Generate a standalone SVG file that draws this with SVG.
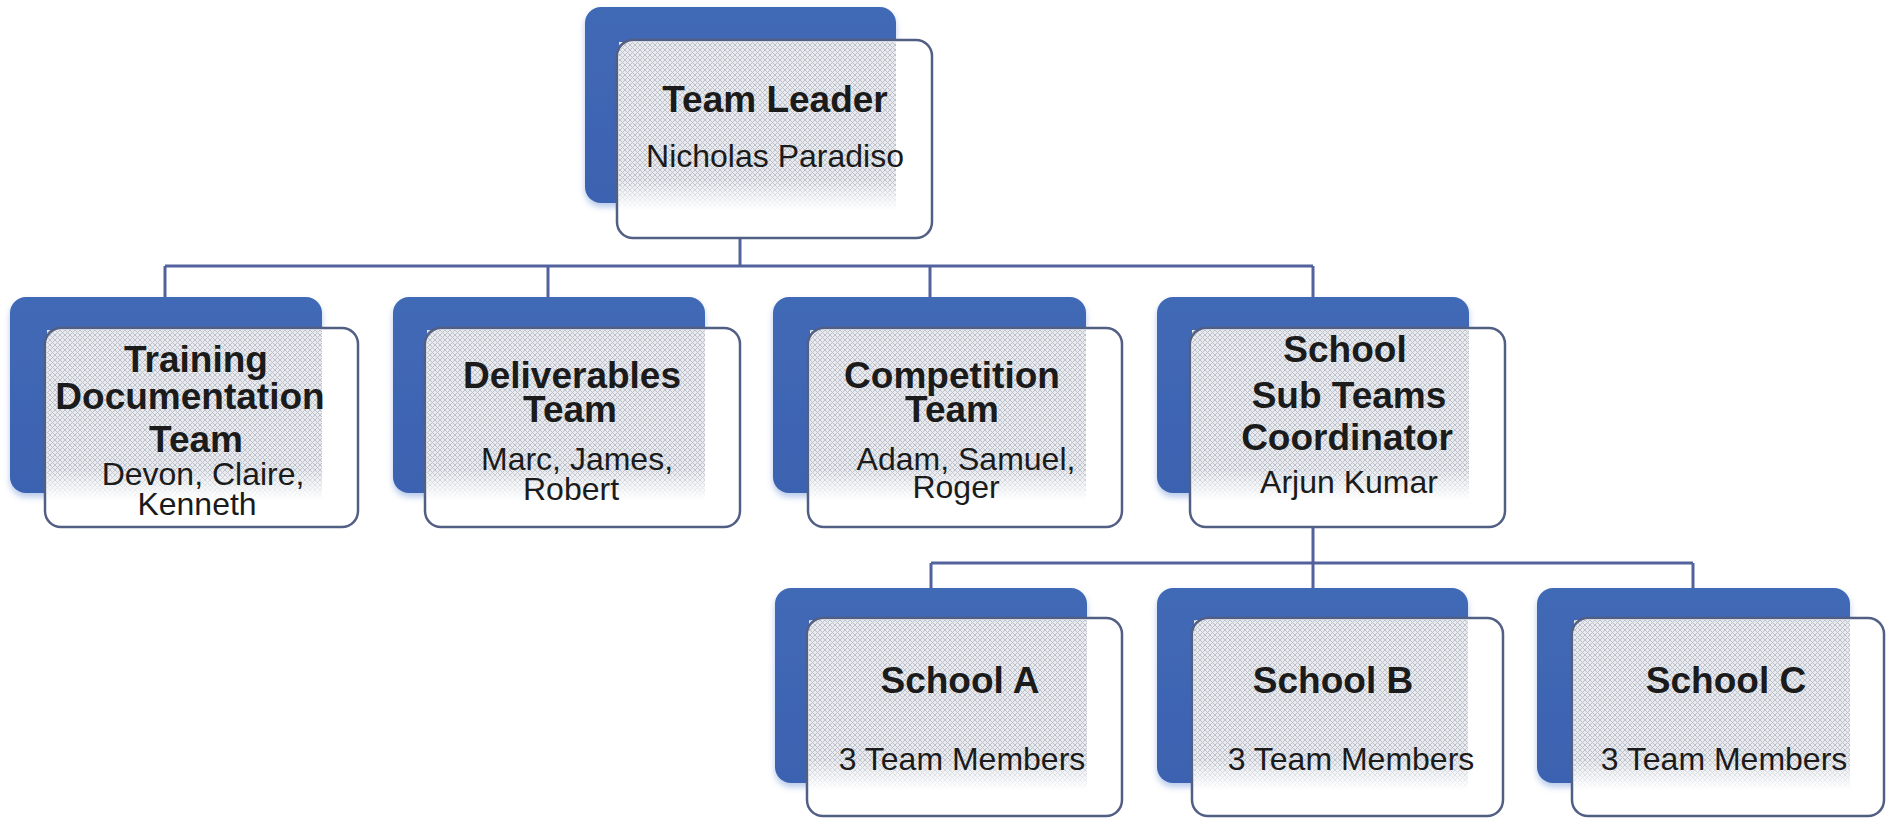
<svg xmlns="http://www.w3.org/2000/svg" width="1886" height="818" viewBox="0 0 1886 818">
<style>
.back{fill:url(#blueGrad);filter:url(#soft)}
.front{fill:#ffffff;stroke:none}
.frame{fill:none;stroke:#525f84;stroke-width:2.5}
.tex{fill:url(#hatch);mask:url(#fade)}
.conn{fill:none;stroke:#52629c;stroke-width:3}
.lbl{font-family:"Liberation Sans",Arial,sans-serif;fill:#1b1b1b;text-anchor:middle}
.t{font-weight:bold;font-size:37px}
.s{font-weight:normal;font-size:32px}
</style>
<defs>
<linearGradient id="blueGrad" x1="0" y1="0" x2="0" y2="1">
<stop offset="0" stop-color="#4169b6"/>
<stop offset="1" stop-color="#3b62b0"/>
</linearGradient>
<filter id="soft" x="-10%" y="-10%" width="120%" height="125%">
<feDropShadow dx="0" dy="4" stdDeviation="3" flood-color="#5f86d0" flood-opacity="0.45"/>
</filter>
<pattern id="hatch" width="5" height="5" patternUnits="userSpaceOnUse">
<rect width="5" height="5" fill="#e9ebef"/>
<path d="M0 0L5 5M5 0L0 5" stroke="#bcc1cb" stroke-width="1"/>
</pattern>
<linearGradient id="fadeGrad" x1="0" y1="0" x2="0" y2="1">
<stop offset="0" stop-color="#fff"/>
<stop offset="0.82" stop-color="#fff"/>
<stop offset="1" stop-color="#000"/>
</linearGradient>
<mask id="fade" maskContentUnits="objectBoundingBox">
<rect width="1" height="1" fill="url(#fadeGrad)"/>
</mask>
</defs>
<rect width="1886" height="818" fill="#ffffff"/>

<g id="connectors">
<path class="conn" d="M740 238V266M165 266H1313M165 266V297M548 266V297M930 266V297M1313 266V297"/>
<path class="conn" d="M1313 528V563M931 563H1693M931 563V588M1313 563V588M1693 563V588"/>
</g>

<g id="team-leader">
<rect class="back" x="585" y="7" width="311" height="196" rx="16"/>
<rect class="front" x="617" y="40" width="315" height="198" rx="16"/>
<rect class="tex" x="619" y="42" width="277" height="168"/>
<rect class="frame" x="617" y="40" width="315" height="198" rx="16"/>
<text class="lbl"><tspan class="t" x="775" y="112">Team Leader</tspan><tspan class="s" x="775" y="167">Nicholas Paradiso</tspan></text>
</g>

<g id="training">
<rect class="back" x="10" y="297" width="312" height="196" rx="16"/>
<rect class="front" x="45" y="328" width="313" height="199" rx="16"/>
<rect class="tex" x="47" y="330" width="275" height="170"/>
<rect class="frame" x="45" y="328" width="313" height="199" rx="16"/>
<text class="lbl"><tspan class="t" x="196" y="372">Training</tspan><tspan class="t" x="190" y="409">Documentation</tspan><tspan class="t" x="196" y="452">Team</tspan><tspan class="s" x="203" y="485">Devon, Claire,</tspan><tspan class="s" x="197" y="515">Kenneth</tspan></text>
</g>

<g id="deliverables">
<rect class="back" x="393" y="297" width="312" height="196" rx="16"/>
<rect class="front" x="425" y="328" width="315" height="199" rx="16"/>
<rect class="tex" x="427" y="330" width="278" height="170"/>
<rect class="frame" x="425" y="328" width="315" height="199" rx="16"/>
<text class="lbl"><tspan class="t" x="572" y="388">Deliverables</tspan><tspan class="t" x="570" y="422">Team</tspan><tspan class="s" x="577" y="470">Marc, James,</tspan><tspan class="s" x="571" y="500">Robert</tspan></text>
</g>

<g id="competition">
<rect class="back" x="773" y="297" width="313" height="196" rx="16"/>
<rect class="front" x="808" y="328" width="314" height="199" rx="16"/>
<rect class="tex" x="810" y="330" width="276" height="170"/>
<rect class="frame" x="808" y="328" width="314" height="199" rx="16"/>
<text class="lbl"><tspan class="t" x="952" y="388">Competition</tspan><tspan class="t" x="952" y="422">Team</tspan><tspan class="s" x="966" y="470">Adam, Samuel,</tspan><tspan class="s" x="956" y="498">Roger</tspan></text>
</g>

<g id="school-coordinator">
<rect class="back" x="1157" y="297" width="312" height="196" rx="16"/>
<rect class="front" x="1190" y="328" width="315" height="199" rx="16"/>
<rect class="tex" x="1192" y="330" width="277" height="170"/>
<rect class="frame" x="1190" y="328" width="315" height="199" rx="16"/>
<text class="lbl"><tspan class="t" x="1345" y="362">School</tspan><tspan class="t" x="1349" y="408">Sub Teams</tspan><tspan class="t" x="1347" y="450">Coordinator</tspan><tspan class="s" x="1349" y="493">Arjun Kumar</tspan></text>
</g>

<g id="school-a">
<rect class="back" x="775" y="588" width="312" height="195" rx="16"/>
<rect class="front" x="807" y="618" width="315" height="198" rx="16"/>
<rect class="tex" x="809" y="620" width="278" height="170"/>
<rect class="frame" x="807" y="618" width="315" height="198" rx="16"/>
<text class="lbl"><tspan class="t" x="960" y="693">School A</tspan><tspan class="s" x="962" y="770">3 Team Members</tspan></text>
</g>

<g id="school-b">
<rect class="back" x="1157" y="588" width="311" height="195" rx="16"/>
<rect class="front" x="1192" y="618" width="311" height="198" rx="16"/>
<rect class="tex" x="1194" y="620" width="274" height="170"/>
<rect class="frame" x="1192" y="618" width="311" height="198" rx="16"/>
<text class="lbl"><tspan class="t" x="1333" y="693">School B</tspan><tspan class="s" x="1351" y="770">3 Team Members</tspan></text>
</g>

<g id="school-c">
<rect class="back" x="1537" y="588" width="313" height="195" rx="16"/>
<rect class="front" x="1572" y="618" width="312" height="198" rx="16"/>
<rect class="tex" x="1574" y="620" width="276" height="170"/>
<rect class="frame" x="1572" y="618" width="312" height="198" rx="16"/>
<text class="lbl"><tspan class="t" x="1726" y="693">School C</tspan><tspan class="s" x="1724" y="770">3 Team Members</tspan></text>
</g>
</svg>
